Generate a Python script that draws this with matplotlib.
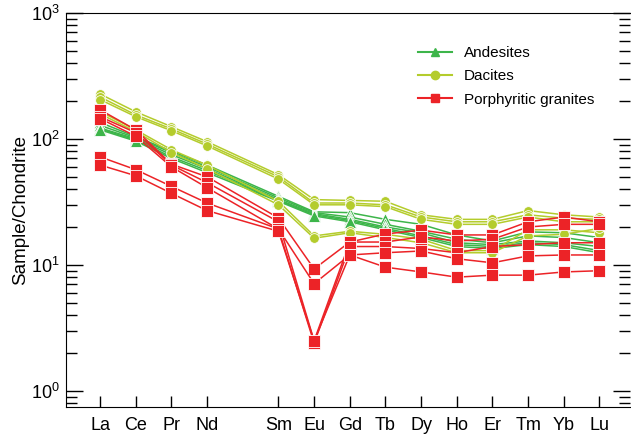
import numpy as np
import matplotlib
matplotlib.use("Agg")
import matplotlib.pyplot as plt
from matplotlib.ticker import LogLocator, NullFormatter

plt.rcParams['font.family'] = ['Liberation Sans', 'DejaVu Sans']

# REE order (Pm left out, gap kept)
elements = ["La", "Ce", "Pr", "Nd", "Sm", "Eu", "Gd", "Tb", "Dy", "Ho", "Er", "Tm", "Yb", "Lu"]
xpos = [0, 1, 2, 3, 5, 6, 7, 8, 9, 10, 11, 12, 13, 14]

# chondrite-normalised values
andesites = [
    [135, 104, 80, 62, 35, 26.4, 26, 23, 21, 17.3, 15.5, 18.3, 18, 16.5],
    [128, 102, 78, 60, 34, 26, 24, 21, 18.5, 16, 15, 17, 16.5, 15],
    [122, 100, 75, 58, 33, 25.5, 23, 20, 18, 15, 14.5, 15.5, 15, 14],
    [120, 98, 72, 56, 32.5, 25, 22.5, 19.5, 17, 14.5, 14, 15, 14.5, 13],
    [118, 96, 70, 54, 32, 24.5, 22, 19, 16.5, 14, 13.5, 14.5, 14, 12.5],
]
dacites = [
    [227, 164, 125, 95, 52, 33, 32.5, 32, 25, 23, 23, 27, 25, 24],
    [215, 155, 120, 91, 50, 31, 31, 30, 24, 22, 22, 25, 23.5, 23],
    [205, 150, 116, 88, 48, 30, 30, 29, 23, 21, 21, 24, 22, 22],
    [165, 118, 82, 62, 32, 17, 18.5, 17.5, 16, 13, 13, 19, 19, 18],
    [158, 114, 78, 58, 30, 16.3, 18, 16.5, 15, 12.5, 12.5, 17, 17.5, 19.5],
]
granites = [
    [170, 118, 63, 50, 23.6, 9.3, 15.2, 17.6, 18.9, 17.3, 17.3, 22, 24, 22],
    [150, 112, 62, 45, 22, 2.5, 15.2, 15.2, 16.7, 15.5, 16, 20, 21, 21],
    [145, 105, 60, 41, 19.3, 2.4, 14, 14, 13.5, 12.5, 14, 14.5, 15, 15],
    [72, 57, 42, 31, 19.3, 7.1, 12, 12.5, 12.9, 11.2, 10.4, 11.8, 12, 12],
    [62, 51, 37, 27, 18.5, 2.5, 12, 9.6, 8.8, 8.0, 8.3, 8.3, 8.8, 9],
]

groups = [
    ("Andesites", andesites, "#3db54a", "^", 8),
    ("Dacites", dacites, "#b4cc2c", "o", 7),
    ("Porphyritic granites", granites, "#ec2327", "s", 8),
]

fig = plt.figure(figsize=(6.31, 4.43), dpi=100)
ax = fig.add_axes([0.105, 0.081, 0.893, 0.890])

handles = []
for name, rows, col, mk, ms in groups:
    for r in rows:
        ax.plot(xpos, r, color=col, lw=1.1, marker=mk, ms=ms,
                mfc=col, mec="white", mew=0.6, zorder=3)
    h, = ax.plot([], [], color=col, lw=1.5, marker=mk, ms=6, mfc=col, mec=col)
    handles.append((h, name))

ax.set_yscale("log")
ax.set_ylim(0.745, 1000)
ax.set_xlim(-0.95, 14.85)
ax.set_xticks(xpos)
ax.set_xticklabels(elements, fontsize=13)
ax.yaxis.set_major_locator(LogLocator(base=10, numticks=10))
ax.yaxis.set_minor_locator(LogLocator(base=10, subs=np.arange(2, 10), numticks=10))
ax.yaxis.set_minor_formatter(NullFormatter())
ax.tick_params(axis="both", which="major", direction="in", width=1,
               labelsize=13, right=True, top=False)
ax.tick_params(axis="y", which="major", length=12, pad=5)
ax.tick_params(axis="y", which="minor", direction="in", length=8, width=1, right=True)
ax.tick_params(axis="x", which="major", length=8, pad=7)
ax.spines["right"].set_visible(False)
ax.set_ylabel("Sample/Chondrite", fontsize=13.5, labelpad=1)

ax.legend([h for h, n in handles], [n for h, n in handles], loc="upper left",
          bbox_to_anchor=(0.6, 0.95), frameon=False, fontsize=11,
          handlelength=2.2, labelspacing=0.6)

fig.savefig("out.png", dpi=100)
